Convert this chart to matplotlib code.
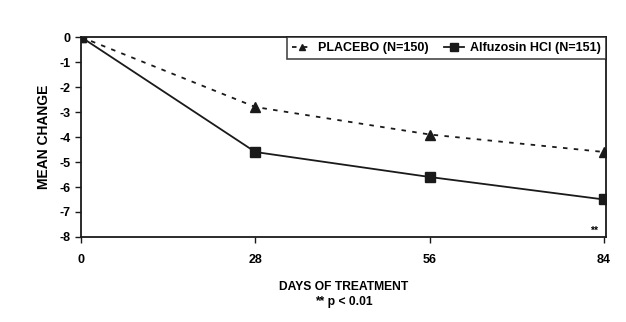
import matplotlib.pyplot as plt

plt.rcParams['font.family'] = ['Liberation Sans', 'DejaVu Sans']
plt.rcParams['font.weight'] = 'bold'
plt.rcParams['axes.unicode_minus'] = False

days = [0, 28, 56, 84]
placebo = [0, -2.8, -3.9, -4.6]
alfuzosin = [0, -4.6, -5.6, -6.5]
yticks = list(range(0, -9, -1))

fig = plt.figure(figsize=(6.26, 3.22), dpi=100)
ax = fig.add_axes([0.1294, 0.264, 0.8386, 0.621])

ax.plot(days, placebo, color='#1a1a1a', linestyle=(0, (2.5, 3.5)), linewidth=1.3,
        marker='^', markersize=6.5, label='PLACEBO (N=150)')
ax.plot(days, alfuzosin, color='#1a1a1a', linestyle='-', linewidth=1.3,
        marker='s', markersize=7, label='Alfuzosin HCl (N=151)')

ax.set_xlim(0, 84.3)
ax.set_ylim(-8, 0)
ax.set_xticks(days)
ax.set_yticks(yticks)
ax.tick_params(labelsize=9, width=1, length=4, color='#1a1a1a')
ax.tick_params(axis='x', pad=8)
for s in ax.spines.values():
    s.set_linewidth(1.3)
    s.set_color('#1a1a1a')

ax.set_ylabel('MEAN CHANGE', fontsize=10, fontweight='bold', labelpad=6)
ax.set_xlabel('DAYS OF TREATMENT\n** p < 0.01', fontsize=8.7, fontweight='bold',
              labelpad=11, linespacing=1.35)

ax.text(83, -7.75, '**', fontsize=7.5, ha='right', va='center')

leg = ax.legend(loc='upper right', ncol=2, fontsize=9, frameon=True, fancybox=False,
                borderaxespad=0, handlelength=1.6, columnspacing=1.2,
                borderpad=0.4, handletextpad=0.5, markerscale=0.75)
leg.get_frame().set_edgecolor('#1a1a1a')
leg.get_frame().set_linewidth(1.2)

fig.savefig('out.png', dpi=100)
